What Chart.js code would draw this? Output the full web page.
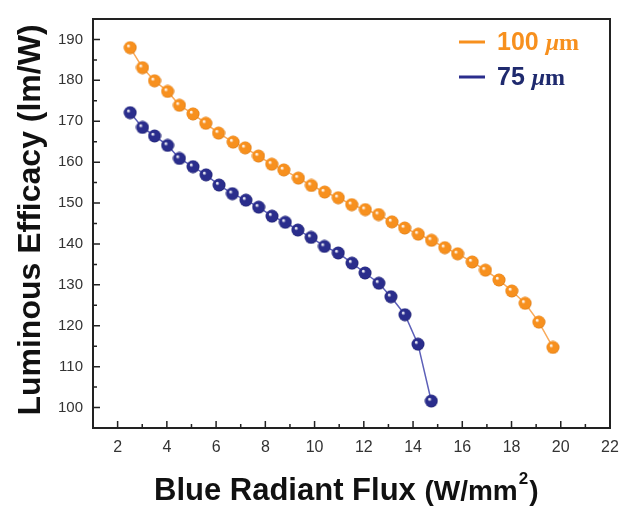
<!DOCTYPE html>
<html>
<head>
<meta charset="utf-8">
<script src="https://cdn.jsdelivr.net/npm/chart.js@4"></script>
<style>
  html, body { margin: 0; padding: 0; background: #fff; }
  #wrap { width: 631px; height: 507px; }
</style>
</head>
<body>
<div id="wrap"><canvas id="chart" width="631" height="507"></canvas></div>
<script>
// values
const flux100 = [2.51, 3.01, 3.50, 4.03, 4.51, 5.06, 5.58, 6.10, 6.69, 7.18, 7.72, 8.26, 8.75,
                 9.34, 9.87, 10.41, 10.96, 11.51, 12.06, 12.60, 13.14, 13.66, 14.21, 14.75,
                 15.29, 15.81, 16.40, 16.94, 17.49, 18.01, 18.55, 19.11, 19.68];
const eff100 = [188.0, 183.1, 179.9, 177.3, 173.9, 171.8, 169.5, 167.1, 164.9, 163.5, 161.5, 159.5, 158.1,
                156.1, 154.3, 152.7, 151.3, 149.6, 148.4, 147.2, 145.4, 143.9, 142.4, 140.9,
                139.1, 137.6, 135.6, 133.6, 131.2, 128.5, 125.5, 120.9, 114.7];
const flux75 = [2.51, 3.01, 3.50, 4.03, 4.51, 5.06, 5.59, 6.12, 6.66, 7.21, 7.73, 8.27, 8.81,
                9.32, 9.86, 10.40, 10.96, 11.52, 12.05, 12.61, 13.10, 13.67, 14.20, 14.74];
const eff75 = [172.1, 168.5, 166.4, 164.1, 160.9, 158.9, 156.9, 154.4, 152.3, 150.7, 149.0, 146.8, 145.3,
               143.4, 141.6, 139.4, 137.8, 135.3, 132.9, 130.4, 127.1, 122.7, 115.5, 101.6];
const xTicks = [2, 4, 6, 8, 10, 12, 14, 16, 18, 20, 22];
const xMinor = [3, 5, 7, 9, 11, 13, 15, 17, 19, 21];
const yTicks = [100, 110, 120, 130, 140, 150, 160, 170, 180, 190];
const yMinor = [105, 115, 125, 135, 145, 155, 165, 175, 185];
const seriesNames = ['100 ', '75 '];

const ORANGE = '#f7901e';
const NAVY = '#2a2d8c';

// shaded ball marker
function ball(color, dark) {
    const c = document.createElement('canvas');
    c.width = 14; c.height = 14;
    const g = c.getContext('2d');
    const grad = g.createRadialGradient(5, 5, 0.5, 7, 7, 7);
    grad.addColorStop(0, '#ffffff');
    grad.addColorStop(0.25, color);
    grad.addColorStop(0.8, color);
    grad.addColorStop(1, dark);
    g.fillStyle = grad;
    g.beginPath();
    g.arc(7, 7, 6.5, 0, Math.PI * 2);
    g.fill();
    return c;
}

function pts(xs, ys) {
    return xs.map((x, i) => ({ x: x, y: ys[i] }));
}

const framePlugin = {
    id: 'frame',
    afterDraw(chart) {
        const ctx = chart.ctx;
        const a = chart.chartArea;
        const xs = chart.scales.x, ys = chart.scales.y;
        ctx.save();
        ctx.strokeStyle = '#222';
        ctx.lineWidth = 2;
        ctx.strokeRect(a.left, a.top, a.right - a.left, a.bottom - a.top);
        ctx.lineWidth = 1.5;
        ctx.beginPath();
        xTicks.forEach(v => { const p = xs.getPixelForValue(v); ctx.moveTo(p, a.bottom); ctx.lineTo(p, a.bottom - 7); });
        xMinor.forEach(v => { const p = xs.getPixelForValue(v); ctx.moveTo(p, a.bottom); ctx.lineTo(p, a.bottom - 4); });
        yTicks.forEach(v => { const p = ys.getPixelForValue(v); ctx.moveTo(a.left, p); ctx.lineTo(a.left + 7, p); });
        yMinor.forEach(v => { const p = ys.getPixelForValue(v); ctx.moveTo(a.left, p); ctx.lineTo(a.left + 4, p); });
        ctx.stroke();

        // axis titles
        ctx.fillStyle = '#111';
        ctx.save();
        ctx.translate(31, 220);
        ctx.rotate(-Math.PI / 2);
        ctx.textAlign = 'center';
        ctx.textBaseline = 'middle';
        ctx.font = 'bold 32px "Liberation Sans", Arial, sans-serif';
        ctx.fillText('Luminous Efficacy (lm/W)', 0, 0);
        ctx.restore();

        ctx.textBaseline = 'alphabetic';
        ctx.textAlign = 'left';
        let x = 154, base = 500;
        ctx.font = 'bold 31px "Liberation Sans", Arial, sans-serif';
        ctx.fillText('Blue Radiant Flux ', x, base);
        x += ctx.measureText('Blue Radiant Flux ').width;
        ctx.font = 'bold 28px "Liberation Sans", Arial, sans-serif';
        ctx.fillText('(W/mm', x, base);
        x += ctx.measureText('(W/mm').width + 1;
        ctx.font = 'bold 17px "Liberation Sans", Arial, sans-serif';
        ctx.fillText('2', x, base - 16);
        x += ctx.measureText('2').width + 1;
        ctx.font = 'bold 28px "Liberation Sans", Arial, sans-serif';
        ctx.fillText(')', x, base);

        // legend
        const rows = [[ORANGE, ORANGE, 42], [NAVY, '#1f2a6e', 77]];
        rows.forEach((r, i) => {
            ctx.strokeStyle = r[0];
            ctx.lineWidth = 3;
            ctx.beginPath();
            ctx.moveTo(459, r[2]); ctx.lineTo(485, r[2]);
            ctx.stroke();
            ctx.fillStyle = r[1];
            ctx.font = 'bold 25px "Liberation Sans", Arial, sans-serif';
            ctx.fillText(seriesNames[i], 497, r[2] + 8);
            let lx = 497 + ctx.measureText(seriesNames[i]).width;
            ctx.font = 'italic bold 24px "Liberation Serif", serif';
            ctx.fillText('\u03bc', lx, r[2] + 8);
            lx += ctx.measureText('\u03bc').width;
            ctx.font = 'bold 24px "Liberation Serif", serif';
            ctx.fillText('m', lx, r[2] + 8);
        });
        ctx.restore();
    }
};

const ctx = document.getElementById('chart').getContext('2d');
const myChart = new Chart(ctx, {
    type: 'scatter',
    data: {
        datasets: [{
            label: '100 \u03bcm',
            data: pts(flux100, eff100),
            showLine: true,
            borderColor: '#f9ab5c',
            borderWidth: 1.5,
            pointStyle: ball(ORANGE, '#c86a08'),
            pointRadius: 7
        }, {
            label: '75 \u03bcm',
            data: pts(flux75, eff75),
            showLine: true,
            borderColor: '#5d60b8',
            borderWidth: 1.5,
            pointStyle: ball(NAVY, '#15175e'),
            pointRadius: 7
        }]
    },
    options: {
        responsive: false,
        animation: false,
        layout: { padding: { left: 0, top: 10, right: 21, bottom: 0 } },
        plugins: { legend: { display: false }, tooltip: { enabled: false } },
        scales: {
            x: {
                type: 'linear', min: 1, max: 22,
                afterBuildTicks: axis => { axis.ticks = xTicks.map(v => ({ value: v })); },
                afterFit: axis => { axis.height = 79; },
                grid: { display: false, drawTicks: false },
                border: { display: false },
                ticks: { padding: 10, color: '#333', font: { family: '"Liberation Sans", Arial', size: 16 } }
            },
            y: {
                type: 'linear', min: 95, max: 195,
                afterBuildTicks: axis => { axis.ticks = yTicks.map(v => ({ value: v })); },
                afterFit: axis => { axis.width = 93; },
                grid: { display: false, drawTicks: false },
                border: { display: false },
                ticks: { padding: 10, color: '#333', font: { family: '"Liberation Sans", Arial', size: 15 } }
            }
        }
    },
    plugins: [framePlugin]
});
</script>
</body>
</html>
